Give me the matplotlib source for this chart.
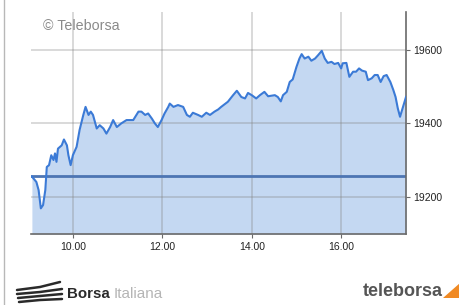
import matplotlib
matplotlib.use("Agg")
import matplotlib.pyplot as plt
from matplotlib.lines import Line2D
from matplotlib.patches import Polygon

plt.rcParams['font.family'] = ['Liberation Sans', 'DejaVu Sans']

# Intraday times (HH:MM) and index values
times = ["9:05", "9:11", "9:14", "9:17", "9:20", "9:23", "9:25", "9:28", "9:31", "9:34",
         "9:36", "9:38", "9:40", "9:45", "9:48", "9:52", "9:54", "9:57", "10:00", "10:05",
         "10:09", "10:14", "10:17", "10:21", "10:24", "10:27", "10:32", "10:36", "10:41", "10:45",
         "10:50", "10:54", "10:59", "11:05", "11:12", "11:21", "11:28", "11:32", "11:37", "11:41",
         "11:46", "11:50", "11:54", "11:59", "12:03", "12:08", "12:10", "12:15", "12:21", "12:28",
         "12:33", "12:37", "12:41", "12:48", "12:53", "12:59", "13:04", "13:10", "13:15", "13:19",
         "13:28", "13:35", "13:40", "13:46", "13:51", "13:55", "14:00", "14:06", "14:11", "14:17",
         "14:22", "14:31", "14:35", "14:39", "14:42", "14:47", "14:51", "14:55", "15:00", "15:04",
         "15:07", "15:11", "15:16", "15:20", "15:25", "15:29", "15:34", "15:38", "15:42", "15:47",
         "15:51", "15:56", "16:00", "16:02", "16:07", "16:11", "16:16", "16:20", "16:24", "16:28",
         "16:33", "16:36", "16:41", "16:45", "16:49", "16:53", "16:57", "17:01", "17:06", "17:10",
         "17:13", "17:16", "17:19", "17:23", "17:27"]
values = [19255, 19240, 19218, 19168, 19177, 19218, 19281, 19286, 19313, 19300,
          19318, 19295, 19331, 19340, 19356, 19340, 19313, 19286, 19313, 19336,
          19382, 19423, 19445, 19423, 19432, 19423, 19386, 19395, 19386, 19372,
          19390, 19409, 19390, 19400, 19409, 19409, 19432, 19432, 19423, 19427,
          19413, 19400, 19390, 19409, 19427, 19445, 19454, 19445, 19450, 19445,
          19423, 19418, 19429, 19423, 19418, 19429, 19423, 19432, 19438, 19445,
          19459, 19477, 19489, 19472, 19468, 19483, 19477, 19468, 19477, 19486,
          19474, 19477, 19472, 19460, 19477, 19486, 19513, 19520, 19554, 19577,
          19589, 19577, 19582, 19571, 19577, 19586, 19598, 19577, 19565, 19568,
          19562, 19565, 19550, 19564, 19565, 19527, 19541, 19541, 19550, 19544,
          19541, 19518, 19523, 19532, 19532, 19513, 19529, 19532, 19513, 19491,
          19472, 19441, 19418, 19445, 19472]
prev_close = 19255

x_ticks = [10, 12, 14, 16]
x_labels = ["10.00", "12.00", "14.00", "16.00"]
y_ticks = [19200, 19400, 19600]
y_labels = ["19200", "19400", "19600"]


def to_hours(s):
    h, m = s.split(":")
    return int(h) + int(m) / 60.0


hours = [to_hours(t) for t in times]

fig = plt.figure(figsize=(4.6, 3.05), dpi=100)
fig.patch.set_facecolor("white")
ax = fig.add_axes([31 / 460, 1 - 234 / 305, (406 - 31) / 460, (234 - 12) / 305])
ax.set_facecolor("white")

ymin, ymax = 19098, 19704
ax.fill_between(hours, values, ymin, color="#c4d8f2", lw=0, zorder=1)
ax.plot(hours, values, color="#3b7ad6", lw=1.5, zorder=3, solid_joinstyle="round")
ax.axhline(prev_close, color="#4d75b3", lw=2.0, zorder=2.5)

ax.set_xlim(hours[0] - 0.02, hours[-1])
ax.set_ylim(ymin, ymax)

ax.set_xticks(x_ticks)
ax.set_xticklabels(x_labels)
ax.set_yticks(y_ticks)
ax.set_yticklabels(y_labels)
ax.yaxis.tick_right()

for xv in x_ticks:
    ax.axvline(xv, color="#808080", alpha=0.35, lw=1.2, zorder=2)
for yv in y_ticks:
    ax.axhline(yv, color="#808080", alpha=0.35, lw=1.2, zorder=2)

for s in ["left", "top"]:
    ax.spines[s].set_visible(False)
for s in ["bottom", "right"]:
    ax.spines[s].set_color("#6a6a6a")
    ax.spines[s].set_linewidth(1.2)

ax.tick_params(axis="x", length=3, width=0.8, color="#6a6a6a", labelsize=7.5,
               labelcolor="#222222", pad=3)
ax.tick_params(axis="y", length=3, width=0.8, color="#6a6a6a", labelsize=7.5,
               labelcolor="#222222", pad=2)

# watermark
fig.text(43 / 460, 1 - 26 / 305, "\u00a9 Teleborsa", fontsize=10.3, color="#8a8a8a",
         ha="left", va="center")

# left frame line
fig.add_artist(Line2D([4 / 460, 4 / 460], [0, 1], color="#b8b8b8", lw=1.0))

# Borsa Italiana logo (simple strokes) and text
strokes = [([17, 40, 60], [290, 287, 282]),
           ([17, 40, 62], [294, 292, 289]),
           ([18, 40, 62], [298, 296, 294]),
           ([19, 40, 62], [302, 300, 299])]
for xs, ys in strokes:
    fig.add_artist(Line2D([v / 460 for v in xs], [1 - v / 305 for v in ys],
                          color="#2a2a2a", lw=1.8, solid_capstyle="round"))
fig.text(67 / 460, 1 - 294 / 305, "Borsa", fontsize=10.8, fontweight="bold",
         color="#2a2a2a", ha="left", va="center")
fig.text(114 / 460, 1 - 294 / 305, "Italiana", fontsize=11,
         color="#b5b5b5", ha="left", va="center")

# teleborsa logo
fig.text(363 / 460, 1 - 292 / 305, "teleborsa", fontsize=13, fontweight="bold",
         color="#555555", ha="left", va="center")
fig.add_artist(Polygon([[443 / 460, 1 - 298 / 305], [460 / 460, 1 - 298 / 305],
                        [460 / 460, 1 - 283 / 305]], closed=True,
                       facecolor="#f08a24", edgecolor="none", transform=fig.transFigure))

fig.savefig("out.png", dpi=100, facecolor="white")
